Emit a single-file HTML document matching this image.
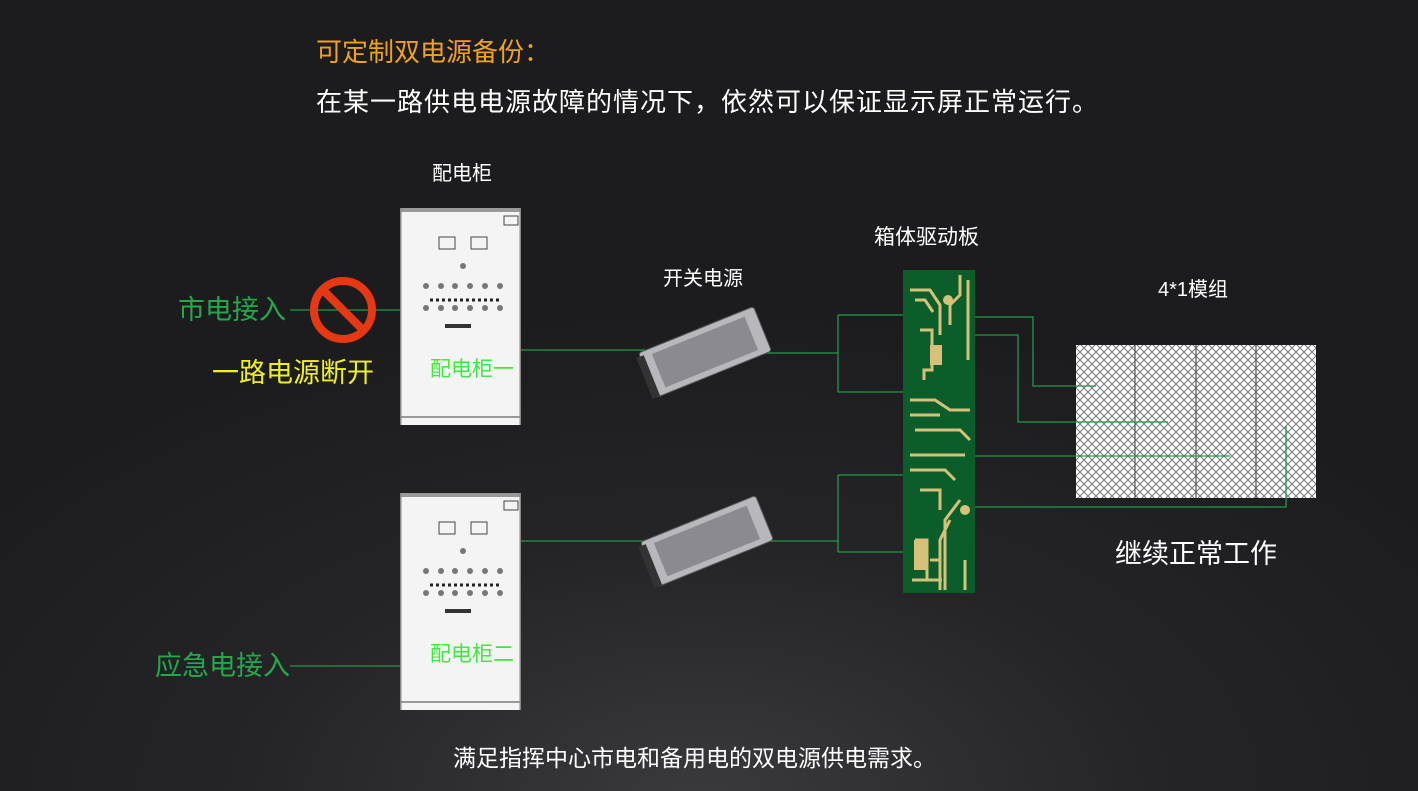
<!DOCTYPE html>
<html><head><meta charset="utf-8"><style>
html,body{margin:0;padding:0}
body{width:1418px;height:791px;overflow:hidden;background:radial-gradient(ellipse 900px 500px at 700px 800px,#3a3a3d 0%,#252528 50%,#1c1c1f 100%);font-family:"Liberation Sans","Noto Sans CJK SC",sans-serif;position:relative}
.t{position:absolute;white-space:nowrap;line-height:1}
</style></head><body>
<svg width="1418" height="791" style="position:absolute;left:0;top:0">
<defs>
<pattern id="hatch" width="8" height="8" patternUnits="userSpaceOnUse">
<rect width="8" height="8" fill="#fff"/>
<path d="M0 0L8 8M8 0L0 8" stroke="#777" stroke-width="1"/>
</pattern>
<g id="cab">
<rect x="0" y="0" width="121" height="217" fill="#f4f4f4"/>
<rect x="0" y="0" width="121" height="4" fill="#999"/>
<rect x="0" y="208" width="121" height="2" fill="#999"/>
<rect x="0" y="0" width="1.5" height="217" fill="#888"/>
<rect x="119.5" y="0" width="1.5" height="217" fill="#888"/>
<rect x="104" y="8" width="14" height="9" fill="none" stroke="#444"/>
<rect x="39" y="29" width="16" height="12" fill="none" stroke="#444"/>
<rect x="71" y="29" width="16" height="12" fill="none" stroke="#444"/>
<circle cx="63" cy="58" r="3" fill="#777"/>
<g fill="#777"><circle cx="26" cy="78" r="3"/><circle cx="41" cy="78" r="3"/><circle cx="55" cy="78" r="3"/><circle cx="70" cy="78" r="3"/><circle cx="85" cy="78" r="3"/><circle cx="100" cy="78" r="3"/>
<circle cx="26" cy="100" r="3"/><circle cx="41" cy="100" r="3"/><circle cx="55" cy="100" r="3"/><circle cx="70" cy="100" r="3"/><circle cx="85" cy="100" r="3"/><circle cx="100" cy="100" r="3"/></g>
<path d="M30 92h72" stroke="#222" stroke-width="3" stroke-dasharray="3 3"/>
<rect x="45" y="116" width="26" height="4" fill="#333"/>
</g>
</defs>
<g stroke="#1f9a4a" stroke-width="1.3" fill="none">
<path d="M290 310H400"/><path d="M290 666H400"/>
<path d="M521 350H645"/><path d="M521 541H645"/>
<path d="M762 353H838M838 315V392M838 315H905M838 392H905"/>
<path d="M770 541H838M838 475V552M838 475H905M838 552H905"/>
</g>
<use href="#cab" x="400" y="208"/>
<use href="#cab" x="400" y="493"/>
<circle cx="343" cy="310" r="29" fill="none" stroke="#e63812" stroke-width="8"/>
<path d="M323 290L363 330" stroke="#e63812" stroke-width="8"/>
<g transform="translate(705,352) rotate(-22)">
<rect x="-62" y="-24" width="124" height="48" rx="3" fill="#b8b8bc" stroke="#555"/>
<rect x="-50" y="-18" width="100" height="36" fill="#8a8a90"/>
<rect x="-66" y="-20" width="8" height="44" fill="#333"/>
</g>
<g transform="translate(707,541) rotate(-22)">
<rect x="-62" y="-24" width="124" height="48" rx="3" fill="#b8b8bc" stroke="#555"/>
<rect x="-50" y="-18" width="100" height="36" fill="#8a8a90"/>
<rect x="-66" y="-20" width="8" height="44" fill="#333"/>
</g>
<rect x="903" y="270" width="72" height="323" fill="#0b5e2a"/>
<g stroke="#d6c07a" stroke-width="3" fill="none">
<path d="M910 290h20l10 15v30M915 300h10l8 12M960 275v20l-10 10v20M968 280v80M920 330h12v40h-8v10"/>
<path d="M910 400h25l15 10h20M910 415h30M915 430h45l10 10M910 455h55M910 470h35l10 10"/>
<path d="M920 490h20v20M960 500l-15 20v70M950 520l-10 20v50M915 540h12v40M930 560h10"/>
<path d="M912 580h30M965 560v30"/>
</g>
<g fill="#d6c07a"><rect x="930" y="345" width="12" height="20"/><rect x="914" y="540" width="14" height="30"/><circle cx="948" cy="300" r="5"/><circle cx="965" cy="510" r="5"/></g>
<rect x="1076" y="345" width="240" height="153" fill="url(#hatch)"/>
<g stroke="#555" stroke-width="1.2"><path d="M1135 345V498M1196 345V498M1256 345V498"/></g>
<g stroke="#1f9a4a" stroke-width="1.3" fill="none">
<path d="M975 317H1033V386H1096"/>
<path d="M975 335H1018V422H1168"/>
<path d="M975 456H1230"/>
<path d="M975 507H1286V426"/>
</g>
</svg>
<div class="t" style="left:316px;top:39px;font-size:26px;color:#f0a21e">可定制双电源备份：</div>
<div class="t" style="left:316px;top:89px;font-size:26px;letter-spacing:1px;color:#fff">在某一路供电电源故障的情况下，依然可以保证显示屏正常运行。</div>
<div class="t" style="left:432px;top:164px;font-size:20px;color:#fff">配电柜</div>
<div class="t" style="left:663px;top:269px;font-size:20px;color:#fff">开关电源</div>
<div class="t" style="left:874px;top:227px;font-size:21px;color:#fff">箱体驱动板</div>
<div class="t" style="left:1158px;top:280px;font-size:20px;color:#fff">4*1模组</div>
<div class="t" style="left:178px;top:297px;font-size:27px;color:#23a94a">市电接入</div>
<div class="t" style="left:212px;top:360px;font-size:27px;color:#f0f020">一路电源断开</div>
<div class="t" style="left:430px;top:359px;font-size:21px;color:#3ee83e">配电柜一</div>
<div class="t" style="left:430px;top:644px;font-size:21px;color:#3ee83e">配电柜二</div>
<div class="t" style="left:155px;top:653px;font-size:27px;color:#23a94a">应急电接入</div>
<div class="t" style="left:1115px;top:541px;font-size:27px;color:#fff">继续正常工作</div>
<div class="t" style="left:453px;top:747px;font-size:23px;color:#fff">满足指挥中心市电和备用电的双电源供电需求。</div>
</body></html>
